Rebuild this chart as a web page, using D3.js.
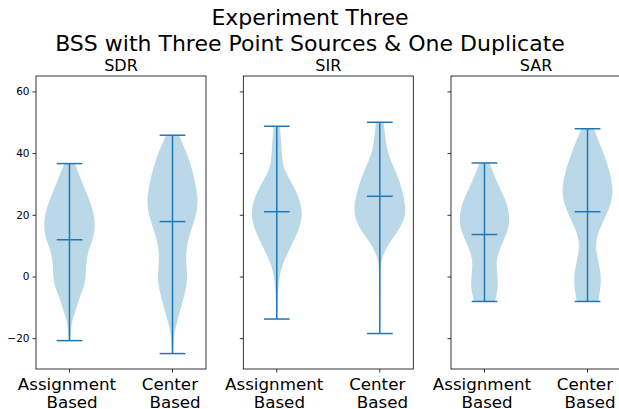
<!DOCTYPE html>
<html>
<head>
<meta charset="utf-8">
<script src="https://cdn.jsdelivr.net/npm/d3@7"></script>
<style>
  body { margin: 0; background: #fff; }
  text { font-family: "DejaVu Sans", sans-serif; }
</style>
</head>
<body>
<div id="chart-area"></div>
<script>
// panel titles and category labels
const metrics = ["SDR", "SIR", "SAR"];
const methods = [["Assignment", "Based"], ["Center", "Based"]];
const yTicks = [-20, 0, 20, 40, 60];

// extremes and medians per panel: [assignment, center]
const mins    = [[-20.8, -25.0], [-13.8, -18.5], [-8.1, -8.1]];
const maxes   = [[36.6, 45.8], [48.7, 50.0], [36.8, 47.9]];
const medians = [[11.9, 17.8], [21.0, 26.0], [13.6, 21.0]];

// violin outlines: [value, relative half width]
const sdrAssign = [[36.6,0.2],[32.5,0.4],[28.1,0.61],[23.8,0.82],[19.5,0.96],[16.2,1.0],[11.9,0.91],[8.7,0.74],[4.3,0.64],[0,0.64],[-3.2,0.57],[-6.5,0.4],[-10.8,0.25],[-14,0.11],[-17.3,0.05],[-20.8,0.03]];
const sdrCenter = [[45.8,0.25],[40.6,0.53],[35.2,0.75],[29.8,0.9],[24.4,1.0],[20,0.92],[15.7,0.75],[11.4,0.59],[7,0.51],[2.7,0.55],[-1.6,0.58],[-5.9,0.47],[-10.3,0.32],[-14.6,0.18],[-18.9,0.05],[-25,0.02]];
const sirAssign = [[48.7,0.12],[43.8,0.17],[38.4,0.21],[35.2,0.26],[31.9,0.47],[28.7,0.68],[25.4,0.87],[21.1,1.0],[16.8,0.93],[12.5,0.71],[8.1,0.45],[3.8,0.21],[-0.5,0.09],[-4.9,0.05],[-9,0.03],[-13.8,0.02]];
const sirCenter = [[50,0.15],[46,0.2],[42,0.26],[38,0.4],[34,0.62],[30,0.8],[26,0.93],[22,1.0],[19,0.97],[16,0.8],[13,0.55],[10,0.3],[7,0.12],[4,0.04],[0,0.02],[-18.5,0.01]];
const sarAssign = [[36.8,0.19],[32.5,0.39],[28.1,0.62],[23.8,0.88],[18.4,1.0],[14.1,0.88],[9.7,0.63],[5.4,0.45],[1.1,0.49],[-3.2,0.54],[-6.5,0.45],[-8.1,0.4]];
const sarCenter = [[47.9,0.24],[43.3,0.46],[39,0.67],[33.6,0.88],[28.1,1.0],[23.8,0.92],[19.5,0.71],[15.2,0.45],[10.8,0.3],[6.5,0.37],[2.2,0.5],[-2.1,0.53],[-5.4,0.47],[-8.1,0.42]];
const profiles = [[sdrAssign, sdrCenter], [sirAssign, sirCenter], [sarAssign, sarCenter]];

const width = 619, height = 409;
const panelLeft = [36, 243.3, 451];
const panelW = 170, panelTop = 76, panelH = 293;
const lineColor = "#1f77b4";
const fillColor = "#bad8e7";

const svg = d3.select("#chart-area")
    .append("svg")
        .attr("width", width)
        .attr("height", height);

// suptitle
svg.append("text")
    .attr("x", 310)
    .attr("y", 25)
    .attr("font-size", "22px")
    .attr("text-anchor", "middle")
    .text("Experiment Three");
svg.append("text")
    .attr("x", 310)
    .attr("y", 51)
    .attr("font-size", "22px")
    .attr("text-anchor", "middle")
    .text("BSS with Three Point Sources & One Duplicate");

var y = d3.scaleLinear()
    .domain([-30, 65])
    .range([panelTop + panelH, panelTop]);

metrics.forEach(function(metric, i) {
    let g = svg.append("g")
        .attr("transform", "translate(" + panelLeft[i] + ", 0)");

    let x = d3.scaleLinear()
        .domain([0.675, 2.325])
        .range([0, panelW]);

    // violins
    profiles[i].forEach(function(prof, j) {
        let pos = j + 1;
        let area = d3.area()
            .y(d => y(d[0]))
            .x0(d => x(pos - 0.25 * d[1]))
            .x1(d => x(pos + 0.25 * d[1]))
            .curve(d3.curveBasis);
        g.append("path")
            .datum(prof)
            .attr("d", area)
            .attr("fill", fillColor)
            .attr("stroke", "none");

        // vertical bar and caps
        g.append("line")
            .attr("x1", x(pos)).attr("x2", x(pos))
            .attr("y1", y(mins[i][j])).attr("y2", y(maxes[i][j]))
            .attr("stroke", lineColor).attr("stroke-width", 1.5);
        [mins[i][j], maxes[i][j], medians[i][j]].forEach(function(v) {
            g.append("line")
                .attr("x1", x(pos - 0.125)).attr("x2", x(pos + 0.125))
                .attr("y1", y(v)).attr("y2", y(v))
                .attr("stroke", lineColor).attr("stroke-width", 1.5);
        });
    });

    // y axis (labels only on the first panel)
    let yAxisCall = d3.axisLeft(y)
        .tickValues(yTicks)
        .tickSize(3.5)
        .tickPadding(3)
        .tickFormat(i === 0 ? (d => d < 0 ? "\u2212" + Math.abs(d) : d) : "");
    let ya = g.append("g").attr("class", "y axis").call(yAxisCall);
    ya.select(".domain").remove();
    ya.selectAll("text").attr("font-size", "10.5px").attr("fill", "#000")
        .attr("font-family", "DejaVu Sans, sans-serif");
    ya.selectAll("line").attr("stroke", "#000").attr("stroke-width", 0.8);

    // x ticks
    [1, 2].forEach(function(pos, j) {
        g.append("line")
            .attr("x1", x(pos)).attr("x2", x(pos))
            .attr("y1", panelTop + panelH).attr("y2", panelTop + panelH + 3.5)
            .attr("stroke", "#000").attr("stroke-width", 0.8);
        let t = g.append("text")
            .attr("x", x(pos))
            .attr("y", 390)
            .attr("font-size", "16.7px")
            .attr("text-anchor", "middle");
        t.append("tspan").attr("x", x(pos) - 2.6).attr("dy", 0).text(methods[j][0]);
        t.append("tspan").attr("x", x(pos) + 2.6).attr("dy", 18).text(methods[j][1]);
    });

    // frame
    g.append("rect")
        .attr("x", 0).attr("y", panelTop)
        .attr("width", panelW).attr("height", panelH)
        .attr("fill", "none")
        .attr("stroke", "#000").attr("stroke-width", 0.8);

    // subplot title
    g.append("text")
        .attr("x", panelW / 2)
        .attr("y", 71)
        .attr("font-size", "16px")
        .attr("text-anchor", "middle")
        .text(metric);
});
</script>
</body>
</html>
